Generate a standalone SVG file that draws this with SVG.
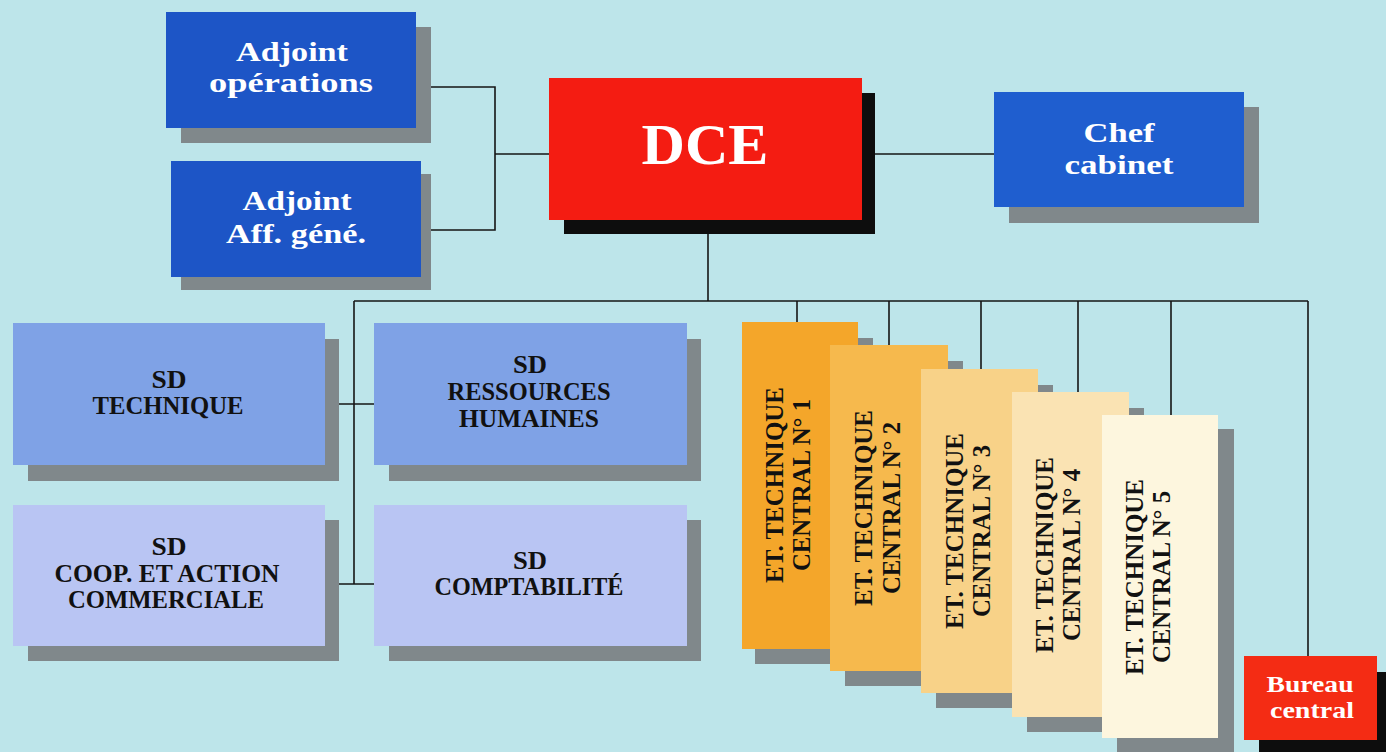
<svg xmlns="http://www.w3.org/2000/svg" width="1386" height="752" viewBox="0 0 1386 752">
<style>
.bg{fill:#bde5ea}
.sh{fill:#80888b}
.shk{fill:#0d0d0d}
.blue{fill:#1d55c6}
.blue2{fill:#1f5ecf}
.red{fill:#f41c12}
.sd1{fill:#7fa2e6}
.sd2{fill:#b9c5f3}
.t{font-family:"Liberation Serif","Times New Roman",serif;font-weight:bold;text-anchor:middle}
.w{fill:#ffffff}
.k{fill:#111111}
.ln{stroke:#151515;stroke-width:1.6;fill:none}
</style>
<rect class="bg" x="0" y="0" width="1386" height="752"/>
<g id="connectors">
<polyline class="ln" points="416,87 495,87 495,230 421,230"/>
<line class="ln" x1="495" y1="154" x2="549" y2="154"/>
<line class="ln" x1="862" y1="154" x2="994" y2="154"/>
<line class="ln" x1="708" y1="220" x2="708" y2="301"/>
<line class="ln" x1="354" y1="301" x2="1308" y2="301"/>
<line class="ln" x1="354" y1="301" x2="354" y2="584"/>
<line class="ln" x1="325" y1="404" x2="374" y2="404"/>
<line class="ln" x1="325" y1="584" x2="374" y2="584"/>
<line class="ln" x1="797" y1="301" x2="797" y2="322"/>
<line class="ln" x1="889" y1="301" x2="889" y2="345"/>
<line class="ln" x1="981" y1="301" x2="981" y2="369"/>
<line class="ln" x1="1078" y1="301" x2="1078" y2="392"/>
<line class="ln" x1="1171" y1="301" x2="1171" y2="415"/>
<line class="ln" x1="1308" y1="301" x2="1308" y2="656"/>
</g>
<g id="adjoint-operations">
<rect class="sh" x="181" y="27" width="250" height="116"/>
<rect class="blue" x="166" y="12" width="250" height="116"/>
<text class="t w" font-size="28" x="292" y="61" textLength="112" lengthAdjust="spacingAndGlyphs">Adjoint</text>
<text class="t w" font-size="28" x="291" y="92" textLength="164" lengthAdjust="spacingAndGlyphs">opérations</text>
</g>
<g id="adjoint-aff-gene">
<rect class="sh" x="181" y="174" width="250" height="116"/>
<rect class="blue" x="171" y="161" width="250" height="116"/>
<text class="t w" font-size="28" x="297" y="210" textLength="109" lengthAdjust="spacingAndGlyphs">Adjoint</text>
<text class="t w" font-size="28" x="296" y="243" textLength="140" lengthAdjust="spacingAndGlyphs">Aff. géné.</text>
</g>
<g id="dce">
<rect class="shk" x="564" y="93" width="311" height="141"/>
<rect class="red" x="549" y="78" width="313" height="142"/>
<text class="t w" font-size="58" x="705" y="164" textLength="127" lengthAdjust="spacingAndGlyphs">DCE</text>
</g>
<g id="chef-cabinet">
<rect class="sh" x="1009" y="107" width="250" height="116"/>
<rect class="blue2" x="994" y="92" width="250" height="115"/>
<text class="t w" font-size="27" x="1119" y="142" textLength="71" lengthAdjust="spacingAndGlyphs">Chef</text>
<text class="t w" font-size="27" x="1119" y="174" textLength="109" lengthAdjust="spacingAndGlyphs">cabinet</text>
</g>
<g id="sd-technique">
<rect class="sh" x="28" y="339" width="311" height="142"/>
<rect class="sd1" x="13" y="323" width="312" height="142"/>
<text class="t k" font-size="25" x="169" y="388" textLength="35" lengthAdjust="spacingAndGlyphs">SD</text>
<text class="t k" font-size="25" x="168" y="414" textLength="151" lengthAdjust="spacingAndGlyphs">TECHNIQUE</text>
</g>
<g id="sd-ressources-humaines">
<rect class="sh" x="389" y="339" width="312" height="142"/>
<rect class="sd1" x="374" y="323" width="313" height="142"/>
<text class="t k" font-size="25" x="530" y="373" textLength="34" lengthAdjust="spacingAndGlyphs">SD</text>
<text class="t k" font-size="25" x="529" y="400" textLength="163" lengthAdjust="spacingAndGlyphs">RESSOURCES</text>
<text class="t k" font-size="25" x="529" y="427" textLength="140" lengthAdjust="spacingAndGlyphs">HUMAINES</text>
</g>
<g id="sd-coop">
<rect class="sh" x="28" y="520" width="311" height="141"/>
<rect class="sd2" x="13" y="505" width="312" height="141"/>
<text class="t k" font-size="25" x="169" y="555" textLength="35" lengthAdjust="spacingAndGlyphs">SD</text>
<text class="t k" font-size="25" x="167" y="582" textLength="225" lengthAdjust="spacingAndGlyphs">COOP. ET ACTION</text>
<text class="t k" font-size="25" x="166" y="608" textLength="196" lengthAdjust="spacingAndGlyphs">COMMERCIALE</text>
</g>
<g id="sd-comptabilite">
<rect class="sh" x="389" y="520" width="312" height="141"/>
<rect class="sd2" x="374" y="505" width="313" height="141"/>
<text class="t k" font-size="25" x="530" y="569" textLength="34" lengthAdjust="spacingAndGlyphs">SD</text>
<text class="t k" font-size="25" x="529" y="595" textLength="189" lengthAdjust="spacingAndGlyphs">COMPTABILITÉ</text>
</g>
<g id="et1">
<rect class="sh" x="755" y="338" width="118" height="326"/>
<rect fill="#f4a62a" x="742" y="322" width="116" height="327"/>
<g transform="translate(783,485) rotate(-90)">
<text class="t k" font-size="25" x="0" y="0" textLength="196" lengthAdjust="spacingAndGlyphs">ET. TECHNIQUE</text>
<text class="t k" font-size="25" x="0" y="27" textLength="172" lengthAdjust="spacingAndGlyphs">CENTRAL N° 1</text>
</g>
</g>
<g id="et2">
<rect class="sh" x="845" y="361" width="118" height="325"/>
<rect fill="#f6b94d" x="830" y="345" width="118" height="326"/>
<g transform="translate(872,508) rotate(-90)">
<text class="t k" font-size="25" x="0" y="0" textLength="196" lengthAdjust="spacingAndGlyphs">ET. TECHNIQUE</text>
<text class="t k" font-size="25" x="0" y="28" textLength="172" lengthAdjust="spacingAndGlyphs">CENTRAL N° 2</text>
</g>
</g>
<g id="et3">
<rect class="sh" x="936" y="385" width="117" height="323"/>
<rect fill="#f8d288" x="921" y="369" width="117" height="324"/>
<g transform="translate(963,531) rotate(-90)">
<text class="t k" font-size="25" x="0" y="0" textLength="196" lengthAdjust="spacingAndGlyphs">ET. TECHNIQUE</text>
<text class="t k" font-size="25" x="0" y="27" textLength="172" lengthAdjust="spacingAndGlyphs">CENTRAL N° 3</text>
</g>
</g>
<g id="et4">
<rect class="sh" x="1027" y="408" width="117" height="324"/>
<rect fill="#fae3b3" x="1012" y="392" width="117" height="325"/>
<g transform="translate(1053,555) rotate(-90)">
<text class="t k" font-size="25" x="0" y="0" textLength="196" lengthAdjust="spacingAndGlyphs">ET. TECHNIQUE</text>
<text class="t k" font-size="25" x="0" y="27" textLength="172" lengthAdjust="spacingAndGlyphs">CENTRAL N° 4</text>
</g>
</g>
<g id="et5">
<rect class="sh" x="1117" y="429" width="117" height="323"/>
<rect fill="#fdf6de" x="1102" y="415" width="116" height="323"/>
<g transform="translate(1143,577) rotate(-90)">
<text class="t k" font-size="25" x="0" y="0" textLength="196" lengthAdjust="spacingAndGlyphs">ET. TECHNIQUE</text>
<text class="t k" font-size="25" x="0" y="27" textLength="172" lengthAdjust="spacingAndGlyphs">CENTRAL N° 5</text>
</g>
</g>
<g id="bureau-central">
<rect class="shk" x="1259" y="672" width="127" height="80"/>
<rect fill="#f42c14" x="1244" y="656" width="133" height="84"/>
<text class="t w" font-size="24" x="1310" y="692" textLength="87" lengthAdjust="spacingAndGlyphs">Bureau</text>
<text class="t w" font-size="24" x="1312" y="718" textLength="84" lengthAdjust="spacingAndGlyphs">central</text>
</g>
</svg>
